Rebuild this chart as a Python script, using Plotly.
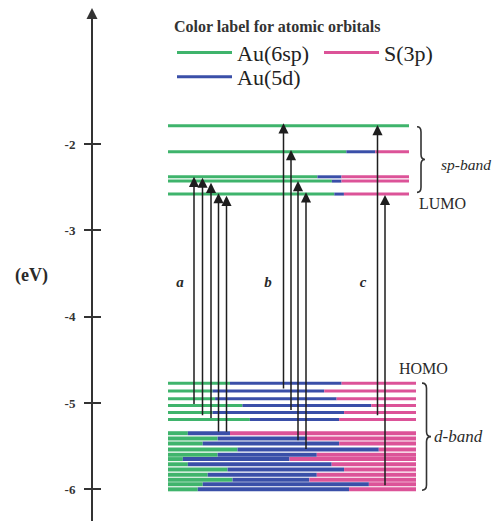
import plotly.graph_objects as go

# ---------------- data ----------------
orbitals = ["Au(6sp)", "Au(5d)", "S(3p)"]

# sp-band (unoccupied) levels, eV, and orbital composition (%)
sp_energies = [-1.79, -2.09, -2.38, -2.43, -2.58]
sp_au6sp = [100, 74, 62, 68, 69]
sp_au5d = [0, 12, 10, 4, 4]
sp_s3p = [0, 14, 28, 28, 27]

# d-band (occupied) levels, upper group
dtop_energies = [-4.77, -4.86, -4.95, -5.03, -5.11, -5.19]
dtop_au6sp = [25, 18, 19, 30, 18, 33]
dtop_au5d = [45, 45, 49, 52, 53, 36]
dtop_s3p = [30, 37, 32, 18, 29, 31]

# d-band (occupied) levels, lower dense group
dlow_energies = [-5.35, -5.41, -5.47, -5.54, -5.60, -5.65, -5.71, -5.77, -5.83, -5.89, -5.94, -6.00]
dlow_au6sp = [8, 20, 14, 28, 20, 6, 8, 24, 16, 26, 14, 12]
dlow_au5d = [17, 36, 55, 57, 40, 43, 58, 47, 44, 31, 67, 61]
dlow_s3p = [75, 44, 31, 15, 40, 51, 34, 29, 40, 43, 19, 27]

# transitions (from energy -> to energy), groups a, b, c
a_from = [-5.03, -5.16, -5.19, -5.35, -5.35]
a_to = [-2.38, -2.39, -2.45, -2.57, -2.60]
b_from = [-4.85, -5.10, -5.45, -5.55]
b_to = [-1.76, -2.07, -2.43, -2.56]
c_from = [-5.16, -5.97]
c_to = [-1.78, -2.59]
group_labels = ["a", "b", "c"]

tick_vals = [-2, -3, -4, -5, -6]
tick_text = ["-2", "-3", "-4", "-5", "-6"]

# ---------------- layout / style ----------------
W, H = 496, 521
colors = {"Au(6sp)": "#3fb46c", "Au(5d)": "#3a4fa8", "S(3p)": "#dc5398"}
legend_of = {"Au(6sp)": "legend", "S(3p)": "legend", "Au(5d)": "legend2"}
legend_rank = {"Au(6sp)": 1, "S(3p)": 2, "Au(5d)": 3}
FONT = "Liberation Serif"
TXT = "#2a2a2a"

LEVEL_X0 = 168
SP_X1 = 409
D_X1 = 416
a_x = [194, 202.5, 211, 218.5, 226.5]
b_x = [283.5, 291, 298, 306]
c_x = [377.5, 385]
label_x = [180, 268, 363]
label_E = -3.61

# y range so that -2 eV sits at 144 px and 1 eV = 86.33 px
PX_PER_EV = 86.33
Y_TOP_PX = 14
y_lo = -2 - (H - 144) / PX_PER_EV
y_hi = -2 + (144 - Y_TOP_PX) / PX_PER_EV

fig = go.Figure()

blocks = [
    (sp_energies, [sp_au6sp, sp_au5d, sp_s3p], SP_X1, 3),
    (dtop_energies, [dtop_au6sp, dtop_au5d, dtop_s3p], D_X1, 3),
    (dlow_energies, [dlow_au6sp, dlow_au5d, dlow_s3p], D_X1, 4),
]
shown = set()
for energies, comps, x1, lw in blocks:
    L = x1 - LEVEL_X0
    starts = [0.0] * len(energies)
    for oi, orb in enumerate(orbitals):
        xs, ys = [], []
        for li, E in enumerate(energies):
            pct = comps[oi][li]
            s = starts[li]
            if pct > 0:
                xs += [LEVEL_X0 + s / 100 * L, LEVEL_X0 + (s + pct) / 100 * L, None]
                ys += [E, E, None]
            starts[li] = s + pct
        fig.add_trace(go.Scatter(
            x=xs, y=ys, mode="lines", name=orb,
            line=dict(color=colors[orb], width=lw),
            legend=legend_of[orb], legendrank=legend_rank[orb],
            showlegend=orb not in shown, hoverinfo="skip"))
        shown.add(orb)

# group labels a, b, c (on overlaying axis y2, same range)
fig.add_trace(go.Scatter(
    x=label_x, y=[label_E] * 3, yaxis="y2", mode="text", text=group_labels,
    textfont=dict(family=FONT, size=15, color=TXT, weight="bold", style="italic"),
    showlegend=False, hoverinfo="skip"))

annotations = []
for xs_, fr, to in [(a_x, a_from, a_to), (b_x, b_from, b_to), (c_x, c_from, c_to)]:
    for x, f, t in zip(xs_, fr, to):
        annotations.append(dict(
            x=x, y=t, ax=x, ay=f, xref="x", yref="y", axref="x", ayref="y",
            text="", showarrow=True, arrowhead=2, arrowsize=1.35, arrowwidth=1.5,
            arrowcolor="#1e1e1e", standoff=0, startstandoff=0))

# axis arrow head
annotations.append(dict(
    x=92, y=1 - 8 / H, xref="x", yref="paper", ax=0, ay=18,
    text="", showarrow=True, arrowhead=2, arrowsize=1.1, arrowwidth=2,
    arrowcolor="#333"))

def txt(x, y, s, size, xanchor="center", yref="y", **font):
    annotations.append(dict(
        x=x, y=y, xref="x", yref=yref, text=s, showarrow=False,
        xanchor=xanchor, yanchor="middle",
        font=dict(family=FONT, size=size, color=TXT, **font)))

txt(31, -3.52, "(eV)", 18, weight="bold")
txt(442, -2.69, "LUMO", 16)
txt(423, -4.60, "HOMO", 16)
txt(439, -2.24, "sp-band", 15.5, xanchor="left", style="italic")
txt(432, -5.39, "d-band", 17, xanchor="left", style="italic")


def brace(x0, w, top, bot, r):
    xm = x0 + w / 2
    xt = x0 + w
    mid = (top + bot) / 2
    return (f"M {x0},{top} Q {xm},{top} {xm},{top - r} L {xm},{mid + r} "
            f"Q {xm},{mid} {xt},{mid} Q {xm},{mid} {xm},{mid - r} "
            f"L {xm},{bot + r} Q {xm},{bot} {x0},{bot}")

shapes = [
    dict(type="path", xref="x", yref="y", path=brace(417, 8, -1.80, -2.56, 0.06),
         line=dict(color="#333", width=1.6)),
    dict(type="path", xref="x", yref="y", path=brace(422, 9, -4.77, -6.01, 0.06),
         line=dict(color="#333", width=1.6)),
]

legend_common = dict(orientation="h", xanchor="left", yanchor="top",
                     font=dict(family=FONT, size=22, color="#222"),
                     itemwidth=55, entrywidth=77, entrywidthmode="pixels",
                     bgcolor="rgba(0,0,0,0)", borderwidth=0)

fig.update_layout(
    width=W, height=H, margin=dict(l=0, r=0, t=0, b=0, autoexpand=False),
    paper_bgcolor="white", plot_bgcolor="white",
    xaxis=dict(range=[0, W], visible=False, fixedrange=True),
    yaxis=dict(range=[y_lo, y_hi], domain=[0, 1 - Y_TOP_PX / H],
               anchor="free", position=92 / W, side="left",
               showline=True, linecolor="#333", linewidth=2,
               ticks="outside", ticklen=7, tickwidth=2, tickcolor="#333",
               tickvals=tick_vals, ticktext=tick_text,
               tickfont=dict(family=FONT, size=13, color="#333", weight="bold"),
               ticklabelstandoff=6,
               showgrid=False, zeroline=False, fixedrange=True),
    yaxis2=dict(range=[y_lo, y_hi], overlaying="y", anchor="free",
                position=92 / W, side="left",
                ticks="inside", ticklen=8, tickwidth=2, tickcolor="#333",
                tickvals=tick_vals, showticklabels=False, showline=False,
                showgrid=False, zeroline=False, fixedrange=True),
    legend=dict(x=172 / W, y=1 - 11 / H,
                title=dict(text="Color label for atomic orbitals", side="top",
                           font=dict(family=FONT, size=16, color="#333", weight="bold")),
                **legend_common),
    legend2=dict(x=172 / W, y=1 - 56 / H, **legend_common),
    annotations=annotations, shapes=shapes, showlegend=True,
)

fig.write_html(
    "out.html",
    config={"displayModeBar": False},
    post_script="document.body.style.margin='0';document.body.style.overflow='hidden';",
)
